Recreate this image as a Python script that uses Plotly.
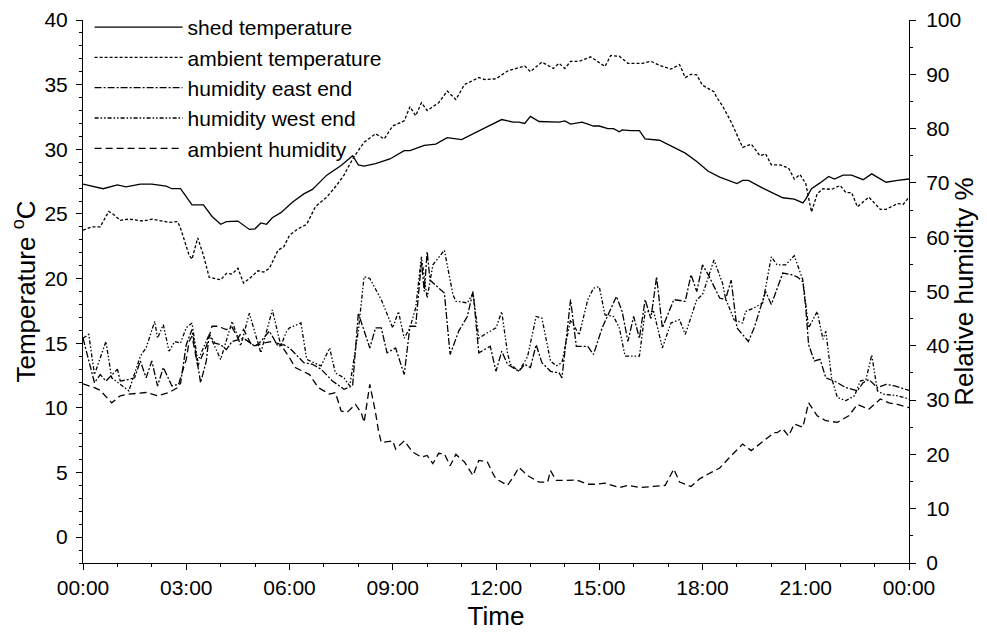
import plotly.graph_objects as go
from datetime import datetime, timedelta

# shed temperature (deg C)
shed_t = ["00:00", "00:35", "01:00", "01:15", "01:40", "02:00", "02:25", "02:35", "02:50", "03:10",
          "03:30", "03:45", "04:00", "04:10", "04:30", "04:50", "05:00", "05:10", "05:20", "05:30",
          "05:45", "06:05", "06:25", "06:40", "07:05", "07:30", "07:50", "08:00", "08:10", "08:30",
          "08:55", "09:20", "09:30", "09:55", "10:15", "10:35", "11:00", "11:15", "11:30", "11:45",
          "12:10", "12:30", "12:40", "12:50", "13:00", "13:15", "13:50", "14:00", "14:10", "14:30",
          "14:50", "15:00", "15:15", "15:25", "15:35", "15:40", "15:55", "16:10", "16:20", "16:45",
          "17:10", "17:30", "17:50", "18:10", "18:30", "19:00", "19:10", "19:20", "19:45", "20:20",
          "20:40", "20:55", "21:00", "21:10", "21:25", "21:40", "21:50", "22:05", "22:20", "22:40",
          "22:55", "23:20", "23:40", "24:00"]
shed_v = [27.3, 26.95, 27.25, 27.1, 27.3, 27.3, 27.15, 26.95, 26.95, 25.7,
          25.7, 24.8, 24.2, 24.4, 24.45, 23.8, 23.85, 24.3, 24.2, 24.7,
          25.1, 25.9, 26.55, 26.9, 28.0, 28.75, 29.5, 28.8, 28.7, 28.9,
          29.25, 29.9, 29.9, 30.3, 30.4, 30.9, 30.75, 31.1, 31.4, 31.75,
          32.3, 32.1, 32.1, 32.0, 32.55, 32.15, 32.1, 32.2, 31.95, 32.1,
          31.8, 31.8, 31.6, 31.6, 31.35, 31.5, 31.45, 31.45, 30.8, 30.7,
          30.15, 29.7, 29.05, 28.3, 27.85, 27.35, 27.6, 27.6, 27.0, 26.25,
          26.15, 25.85, 26.15, 26.95, 27.4, 27.9, 27.7, 28.0, 28.0, 27.65,
          28.1, 27.45, 27.6, 27.7]

# ambient temperature (deg C)
amb_t = ["00:00", "00:15", "00:30", "00:35", "00:45", "00:55", "01:05", "01:20", "01:45", "02:00",
         "02:15", "02:30", "02:45", "02:50", "03:05", "03:10", "03:20", "03:30", "03:40", "04:00",
         "04:10", "04:20", "04:30", "04:40", "04:50", "05:05", "05:15", "05:25", "05:40", "05:50",
         "06:00", "06:15", "06:30", "06:45", "07:05", "07:20", "07:35", "07:50", "08:10", "08:30",
         "08:45", "09:00", "09:20", "09:30", "09:40", "09:50", "10:00", "10:20", "10:35", "10:50",
         "11:05", "11:25", "11:30", "11:40", "12:00", "12:20", "12:50", "13:00", "13:20", "13:40",
         "13:50", "14:00", "14:10", "14:25", "14:45", "15:10", "15:20", "15:35", "15:50", "16:15",
         "16:30", "16:45", "17:05", "17:20", "17:30", "17:40", "17:50", "18:00", "18:20", "18:25",
         "18:35", "18:50", "19:10", "19:25", "19:40", "19:50", "20:00", "20:15", "20:30", "20:40",
         "20:50", "21:00", "21:10", "21:20", "21:30", "21:45", "22:00", "22:10", "22:20", "22:30",
         "22:50", "23:10", "23:20", "23:40", "23:50", "24:00"]
amb_v = [23.75, 24.0, 24.0, 24.4, 25.2, 24.9, 24.5, 24.6, 24.45, 24.6,
         24.5, 24.35, 24.4, 23.9, 21.8, 21.5, 23.15, 21.8, 20.1, 19.9,
         20.4, 20.35, 20.8, 19.65, 20.0, 20.6, 20.5, 20.8, 22.2, 22.45,
         23.35, 23.85, 24.2, 25.55, 26.3, 27.1, 28.0, 29.25, 30.55, 31.2,
         30.8, 31.8, 32.2, 33.3, 32.6, 33.6, 33.0, 33.6, 34.5, 33.85,
         35.0, 35.4, 35.55, 35.4, 35.45, 36.05, 36.45, 36.0, 36.75, 36.25,
         36.65, 36.25, 36.8, 36.8, 37.15, 36.4, 37.25, 37.2, 36.65, 36.65,
         36.8, 36.5, 36.2, 36.55, 35.55, 35.8, 35.75, 34.95, 34.45, 34.0,
         33.35, 32.1, 30.15, 30.4, 29.5, 29.65, 28.8, 28.8, 28.55, 27.7,
         28.05, 27.35, 25.15, 26.55, 26.95, 26.9, 27.2, 26.65, 26.65, 25.55,
         26.3, 25.35, 25.35, 25.8, 25.75, 26.3]

# humidity east end (%)
east_t = ["00:00", "00:20", "00:30", "00:40", "01:00", "01:05", "01:20", "01:30", "01:40", "01:50",
          "02:00", "02:10", "02:20", "02:35", "02:50", "03:00", "03:10", "03:20", "03:25", "03:35",
          "03:40", "03:50", "04:00", "04:10", "04:20", "04:40", "05:00", "05:10", "05:25", "05:40",
          "05:50", "06:00", "06:25", "06:40", "06:55", "07:15", "07:35", "07:50", "08:00", "08:20",
          "08:30", "08:40", "08:50", "09:05", "09:20", "09:30", "09:40", "09:50", "09:55", "10:00",
          "10:05", "10:30", "10:40", "10:55", "11:10", "11:20", "11:30", "11:50", "12:00", "12:10",
          "12:20", "12:40", "12:50", "13:00", "13:10", "13:20", "13:35", "13:50", "13:55", "14:10",
          "14:20", "14:40", "14:50", "15:05", "15:30", "15:40", "15:50", "16:00", "16:10", "16:20",
          "16:30", "16:40", "16:50", "17:10", "17:30", "17:40", "17:50", "18:00", "18:10", "18:30",
          "18:40", "18:50", "19:00", "19:20", "19:30", "19:50", "20:00", "20:20", "20:35", "20:45",
          "20:55", "21:00", "21:05", "21:15", "21:25", "21:35", "21:50", "22:10", "22:30", "22:40",
          "22:50", "23:05", "23:20", "23:35", "24:00"]
east_v = [41.4, 33.2, 34.7, 33.5, 35.7, 33.5, 33.8, 34.1, 37.2, 34.1,
          37.2, 32.6, 36.0, 32.6, 33.0, 40.2, 43.0, 36.6, 33.2, 37.2,
          42.1, 40.5, 40.2, 39.3, 40.8, 41.4, 39.9, 40.8, 42.7, 39.9,
          40.2, 39.6, 36.9, 36.6, 35.7, 33.5, 32.0, 32.6, 46.0, 39.6,
          43.3, 43.3, 38.7, 39.6, 34.7, 43.6, 43.6, 55.5, 50.0, 57.3,
          52.1, 49.7, 38.4, 42.7, 45.4, 50.0, 38.7, 39.9, 35.3, 39.0,
          36.6, 35.3, 36.6, 36.0, 40.2, 36.9, 35.3, 35.0, 34.1, 48.5,
          39.9, 39.9, 38.4, 43.3, 49.1, 46.3, 40.8, 45.4, 41.4, 48.5,
          45.0, 52.7, 43.3, 48.5, 48.2, 53.1, 50.0, 54.9, 53.1, 48.8,
          48.5, 52.1, 43.3, 40.8, 43.3, 50.0, 47.6, 53.4, 53.1, 52.7,
          51.8, 47.0, 40.2, 37.2, 37.5, 34.1, 33.5, 32.3, 31.7, 33.2,
          33.8, 32.3, 32.9, 32.6, 31.8]

# humidity west end (%)
west_t = ["00:00", "00:10", "00:20", "00:40", "00:50", "01:05", "01:20", "01:40", "01:50", "02:05",
          "02:10", "02:20", "02:30", "02:40", "02:50", "03:00", "03:10", "03:20", "03:40", "04:00",
          "04:20", "04:35", "04:50", "05:10", "05:30", "05:45", "05:55", "06:00", "06:20", "06:30",
          "06:55", "07:10", "07:20", "07:35", "07:45", "08:00", "08:10", "08:20", "08:40", "09:00",
          "09:10", "09:20", "09:30", "09:40", "09:50", "10:00", "10:10", "10:30", "10:45", "10:50",
          "11:10", "11:20", "11:30", "11:45", "12:00", "12:10", "12:20", "12:25", "12:40", "12:55",
          "13:10", "13:20", "13:35", "13:45", "13:55", "14:10", "14:25", "14:40", "14:50", "15:00",
          "15:10", "15:25", "15:35", "15:45", "16:10", "16:20", "16:35", "16:50", "17:05", "17:20",
          "17:30", "17:50", "18:00", "18:20", "18:35", "18:40", "18:55", "19:10", "19:15", "19:30",
          "19:45", "20:00", "20:10", "20:25", "20:40", "20:55", "21:05", "21:20", "21:30", "21:35",
          "21:45", "21:55", "22:10", "22:25", "22:35", "22:45", "22:55", "23:05", "23:15", "23:40",
          "24:00"]
west_v = [41.4, 42.1, 34.7, 40.8, 34.1, 32.9, 31.7, 38.1, 39.6, 44.5,
          41.4, 43.9, 39.0, 40.8, 40.5, 43.3, 44.2, 37.2, 42.1, 37.5,
          44.5, 40.0, 46.0, 38.7, 46.6, 40.0, 42.7, 43.3, 44.2, 37.5,
          36.3, 39.6, 35.0, 34.1, 32.6, 42.7, 52.7, 52.4, 48.5, 43.3,
          46.3, 41.4, 43.3, 47.0, 56.4, 48.8, 54.9, 57.6, 49.4, 48.2,
          47.9, 49.7, 41.4, 42.4, 43.3, 46.3, 38.7, 36.6, 35.3, 38.0,
          45.4, 45.1, 37.2, 36.3, 36.9, 44.8, 42.0, 48.5, 50.6, 50.9,
          45.7, 45.4, 43.3, 38.1, 38.1, 46.3, 46.3, 39.6, 44.2, 44.8,
          42.1, 48.5, 49.4, 55.8, 51.5, 48.8, 44.8, 44.2, 46.3, 47.0,
          47.9, 56.4, 54.9, 54.9, 56.6, 52.1, 43.3, 46.3, 41.2, 42.7,
          34.1, 30.5, 29.9, 30.8, 33.5, 33.8, 38.3, 31.7, 31.1, 30.8,
          30.2]

# ambient humidity (%)
rh_t = ["00:00", "00:20", "00:30", "00:50", "01:05", "01:20", "01:50", "02:10", "02:30", "02:45",
        "02:50", "03:00", "03:05", "03:10", "03:20", "03:35", "03:45", "03:55", "04:10", "04:20",
        "04:30", "04:40", "04:55", "05:15", "05:30", "05:45", "06:00", "06:10", "06:35", "06:50",
        "07:10", "07:20", "07:30", "07:40", "07:55", "08:05", "08:10", "08:20", "08:30", "08:35",
        "08:40", "09:00", "09:05", "09:20", "09:35", "09:50", "10:00", "10:10", "10:20", "10:30",
        "10:40", "10:50", "11:05", "11:20", "11:30", "11:45", "11:55", "12:00", "12:20", "12:30",
        "12:40", "12:55", "13:15", "13:30", "13:35", "13:45", "14:00", "14:20", "14:40", "14:55",
        "15:10", "15:35", "15:50", "16:10", "16:35", "16:55", "17:10", "17:20", "17:40", "17:55",
        "18:10", "18:30", "18:45", "19:10", "19:25", "19:40", "19:50", "20:05", "20:10", "20:20",
        "20:30", "20:40", "20:55", "21:05", "21:20", "21:35", "21:55", "22:15", "22:30", "22:50",
        "23:10", "23:25", "23:40", "24:00"]
rh_v = [33.0, 32.3, 31.8, 29.5, 30.8, 31.1, 31.4, 30.8, 31.4, 32.3,
        34.1, 37.5, 40.8, 41.8, 36.3, 39.9, 43.6, 43.6, 43.0, 43.4,
        41.4, 43.0, 39.9, 40.5, 40.8, 40.2, 37.8, 36.0, 34.7, 32.3,
        31.1, 31.4, 28.0, 27.7, 29.2, 27.7, 25.9, 32.9, 27.7, 24.4,
        22.2, 22.5, 21.0, 22.5, 20.4, 19.5, 19.8, 18.3, 20.2, 20.1,
        17.9, 20.0, 18.6, 16.1, 18.9, 18.6, 16.4, 15.5, 14.3, 15.8,
        17.6, 16.1, 14.9, 14.9, 17.0, 15.2, 15.2, 15.3, 14.5, 14.5,
        14.7, 13.9, 14.3, 13.9, 14.1, 14.3, 17.3, 14.9, 14.1, 15.5,
        16.4, 17.5, 19.2, 21.9, 20.7, 21.9, 22.8, 24.0, 24.0, 24.7,
        23.4, 25.6, 25.0, 29.5, 27.1, 26.2, 25.9, 27.1, 29.2, 28.3,
        30.2, 29.5, 29.2, 28.6]

x_ticks = ["00:00", "03:00", "06:00", "09:00", "12:00", "15:00", "18:00", "21:00", "00:00"]

base = datetime(2000, 1, 1)


def to_dt(times):
    out = []
    for s in times:
        h, m = s.split(":")
        out.append(base + timedelta(hours=int(h), minutes=int(m)))
    return out


FONT = "Arial, Liberation Sans, sans-serif"

fig = go.Figure()

series = [
    (shed_t, shed_v, "shed temperature", "solid", "y"),
    (amb_t, amb_v, "ambient temperature", "3px,2px", "y"),
    (east_t, east_v, "humidity east end", "7px,2px,2px,2px", "y2"),
    (west_t, west_v, "humidity west end", "4px,2px,1.5px,2px,1.5px,2px", "y2"),
    (rh_t, rh_v, "ambient humidity", "7px,4px", "y2"),
]

for i, (t, v, name, dash, ax) in enumerate(series):
    fig.add_trace(go.Scatter(
        x=to_dt(t), y=v, name=name, mode="lines", yaxis=ax,
        line=dict(color="black", width=1.3, dash=dash),
    ))

tickvals = [base + timedelta(hours=3 * k) for k in range(len(x_ticks))]

# page body has an 8px margin, so the figure is a bit smaller than the window
fig.update_layout(
    width=971, height=623,
    margin=dict(l=75, r=70, t=12, b=68, autoexpand=False),
    paper_bgcolor="white", plot_bgcolor="white",
    font=dict(family=FONT, size=21, color="black"),
    showlegend=True,
    legend=dict(x=0.008, y=1.024, xanchor="left", yanchor="top",
                bgcolor="rgba(0,0,0,0)", font=dict(size=21),
                itemwidth=88, tracegroupgap=0),
    xaxis=dict(
        type="date",
        range=[base, base + timedelta(hours=24)],
        tickmode="array", tickvals=tickvals, ticktext=x_ticks,
        ticks="outside", ticklen=6, tickcolor="black", tickwidth=1,
        ticklabeloverflow="allow",
        minor=dict(dtick=3600000, ticks="outside", ticklen=3, tickcolor="black"),
        showline=True, linecolor="black", linewidth=1,
        showgrid=False, zeroline=False,
        title=dict(text="Time", font=dict(size=26), standoff=11),
    ),
    yaxis=dict(
        range=[-2, 40], dtick=5, tick0=0,
        ticks="outside", ticklen=6, tickcolor="black",
        ticklabelstandoff=4, ticklabeloverflow="allow",
        minor=dict(dtick=1, ticks="outside", ticklen=3, tickcolor="black"),
        showline=True, linecolor="black", linewidth=1,
        showgrid=False, zeroline=False,
        title=dict(text="Temperature <sup>o</sup>C", font=dict(size=26), standoff=10),
    ),
    yaxis2=dict(
        range=[0, 100], dtick=10, overlaying="y", side="right", anchor="x",
        ticks="outside", ticklen=6, tickcolor="black",
        ticklabelstandoff=6, ticklabeloverflow="allow",
        minor=dict(dtick=5, ticks="outside", ticklen=3, tickcolor="black"),
        showline=True, linecolor="black", linewidth=1,
        showgrid=False, zeroline=False,
        title=dict(text="Relative humidity %", font=dict(size=26), standoff=2),
    ),
)

fig.write_html("out.html")
